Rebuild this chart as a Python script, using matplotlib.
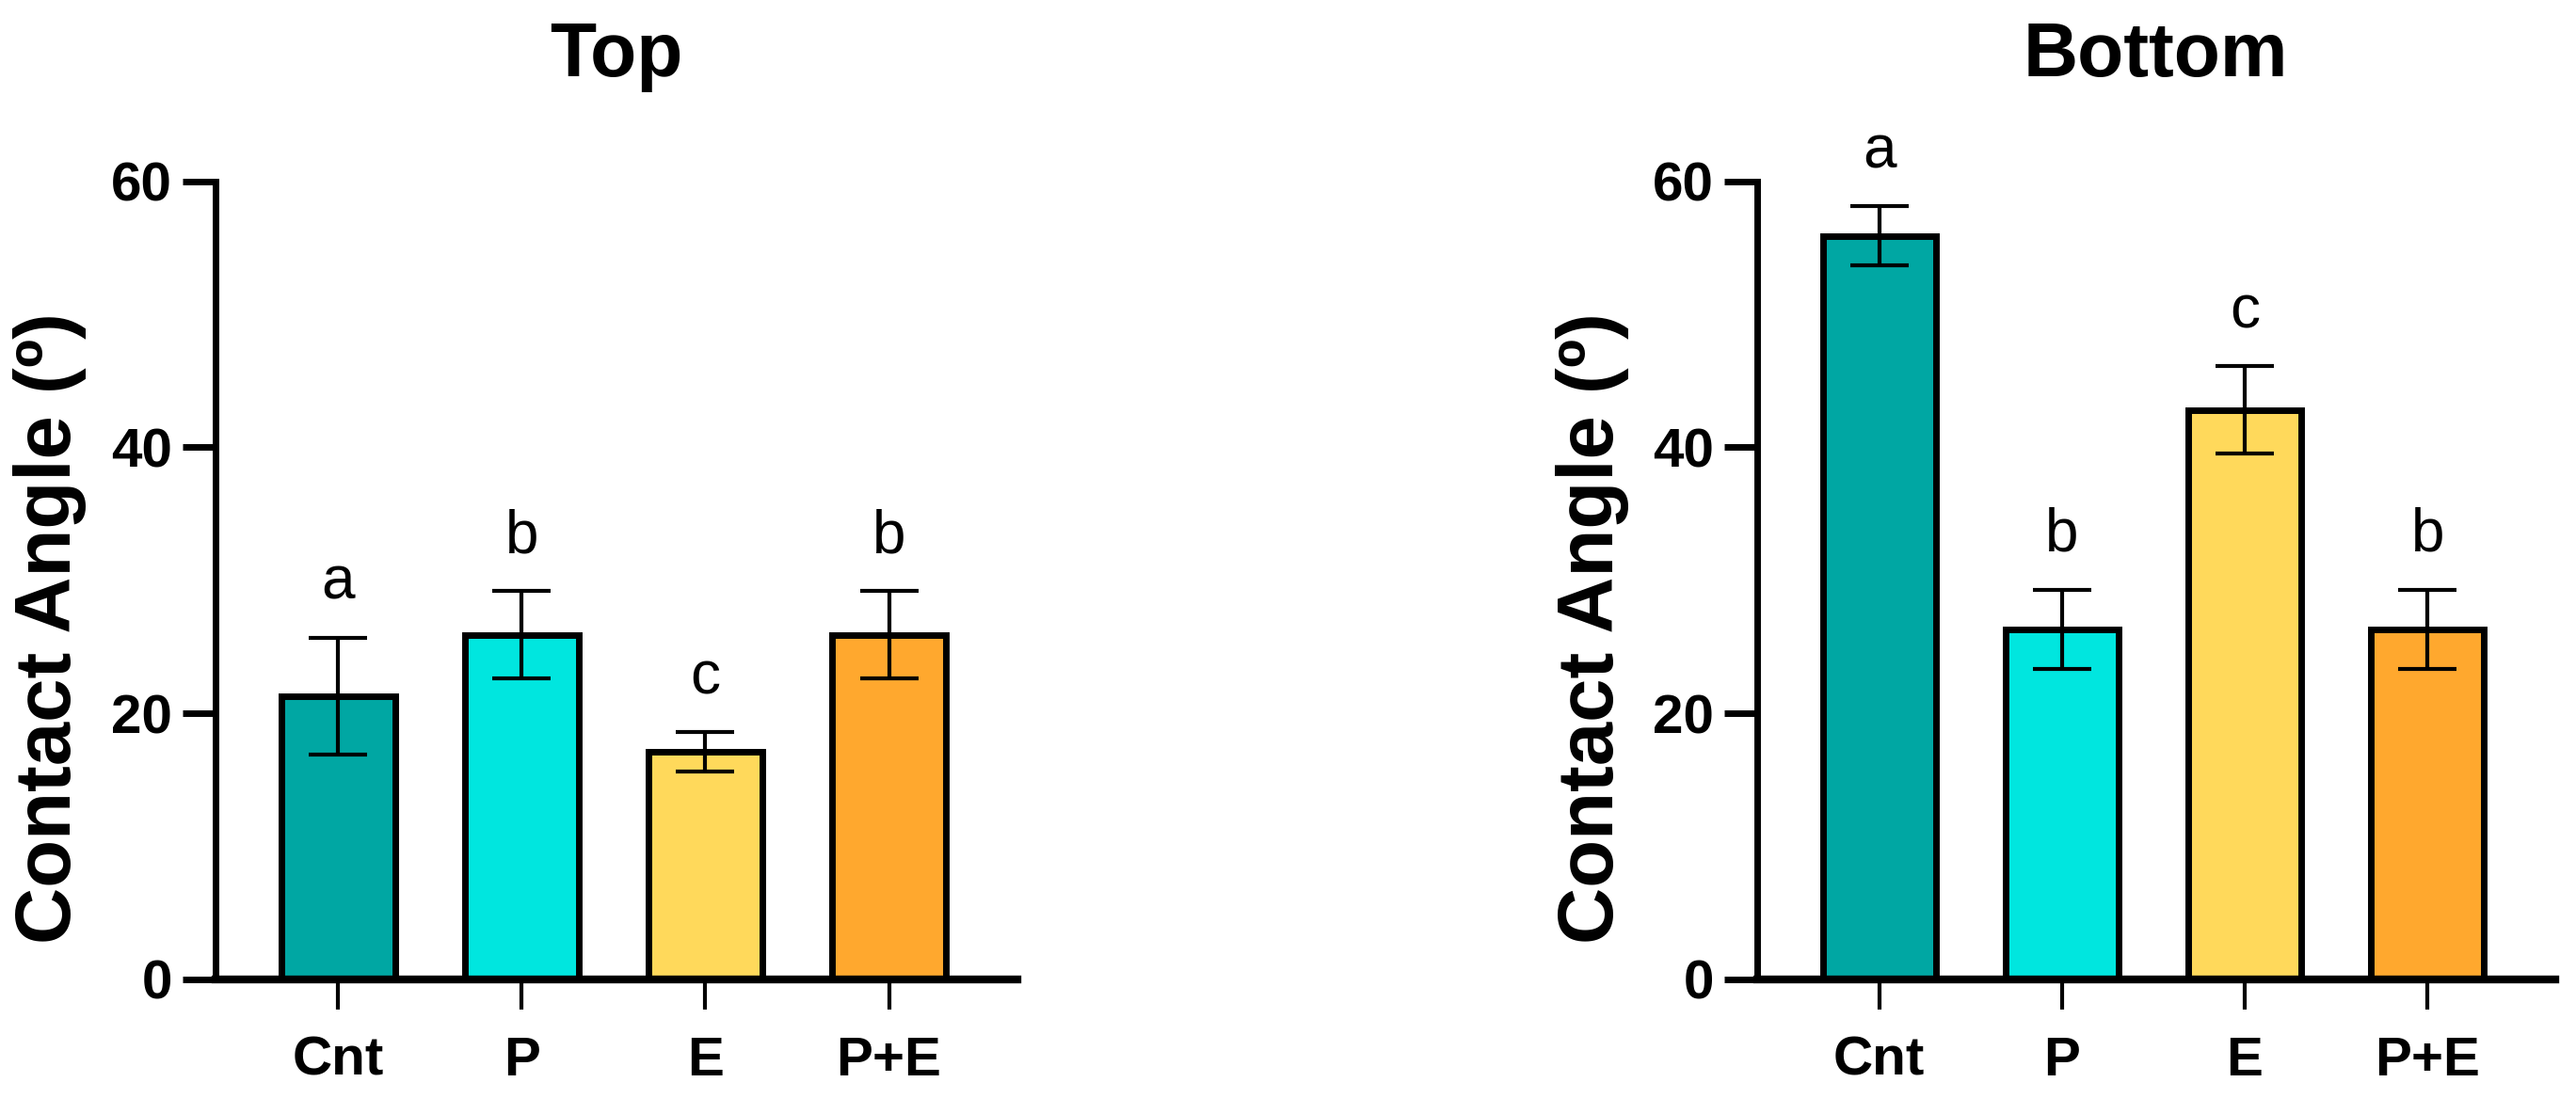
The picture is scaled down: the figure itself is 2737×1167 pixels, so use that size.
import matplotlib
matplotlib.use("Agg")
import matplotlib.pyplot as plt

# Angolo di contatto per trattamento, lato superiore e inferiore
groups = ["Cnt", "P", "E", "P+E"]
colors = ["#00A7A3", "#00E6DF", "#FFD95B", "#FFA82E"]

top_mean = [21.3, 25.9, 17.1, 25.9]
top_err = [4.4, 3.3, 1.5, 3.3]
top_letters = ["a", "b", "c", "b"]

bottom_mean = [55.9, 26.3, 42.8, 26.3]
bottom_err = [2.2, 3.0, 3.3, 3.0]
bottom_letters = ["a", "b", "c", "b"]

plt.rcParams["font.family"] = ["Liberation Sans", "DejaVu Sans"]


def draw_panel(ax, title, means, errs, letters):
    x = range(len(groups))
    ax.bar(x, means, width=0.62, color=colors, edgecolor="black", linewidth=5, zorder=2)
    ax.errorbar(x, means, yerr=errs, fmt="none", ecolor="black", elinewidth=3,
                capsize=22, capthick=3, zorder=3)
    for xi, m, e, lab in zip(x, means, errs, letters):
        ax.annotate(lab, (xi, m + e), xytext=(0, 20), textcoords="offset points",
                    ha="center", va="bottom", fontsize=46)

    ax.set_ylim(0, 60)
    ax.set_xlim(-0.67, 3.7)
    ax.set_yticks([0, 20, 40, 60])
    ax.set_xticks(list(x))
    ax.set_xticklabels(groups)
    for lab in ax.get_xticklabels() + ax.get_yticklabels():
        lab.set_fontweight("bold")
    ax.tick_params(axis="y", length=25, width=5, labelsize=42, pad=8)
    ax.tick_params(axis="x", length=23, width=3, labelsize=42, pad=20)

    ax.spines["top"].set_visible(False)
    ax.spines["right"].set_visible(False)
    ax.spines["left"].set_linewidth(5)
    ax.spines["bottom"].set_linewidth(6)

    ax.set_ylabel("Contact Angle (º)", fontsize=60, fontweight="bold")
    ax.yaxis.set_label_coords(-0.16, 0.44)
    ax.set_title(title, fontsize=58, fontweight="bold", pad=80)


fig = plt.figure(figsize=(27.37, 11.67), dpi=100)
ax1 = fig.add_axes([0.0835, 0.108, 0.3115, 0.727])
ax2 = fig.add_axes([0.682, 0.108, 0.310, 0.727])

draw_panel(ax1, "Top", top_mean, top_err, top_letters)
draw_panel(ax2, "Bottom", bottom_mean, bottom_err, bottom_letters)

fig.savefig("out.png", dpi=100)
